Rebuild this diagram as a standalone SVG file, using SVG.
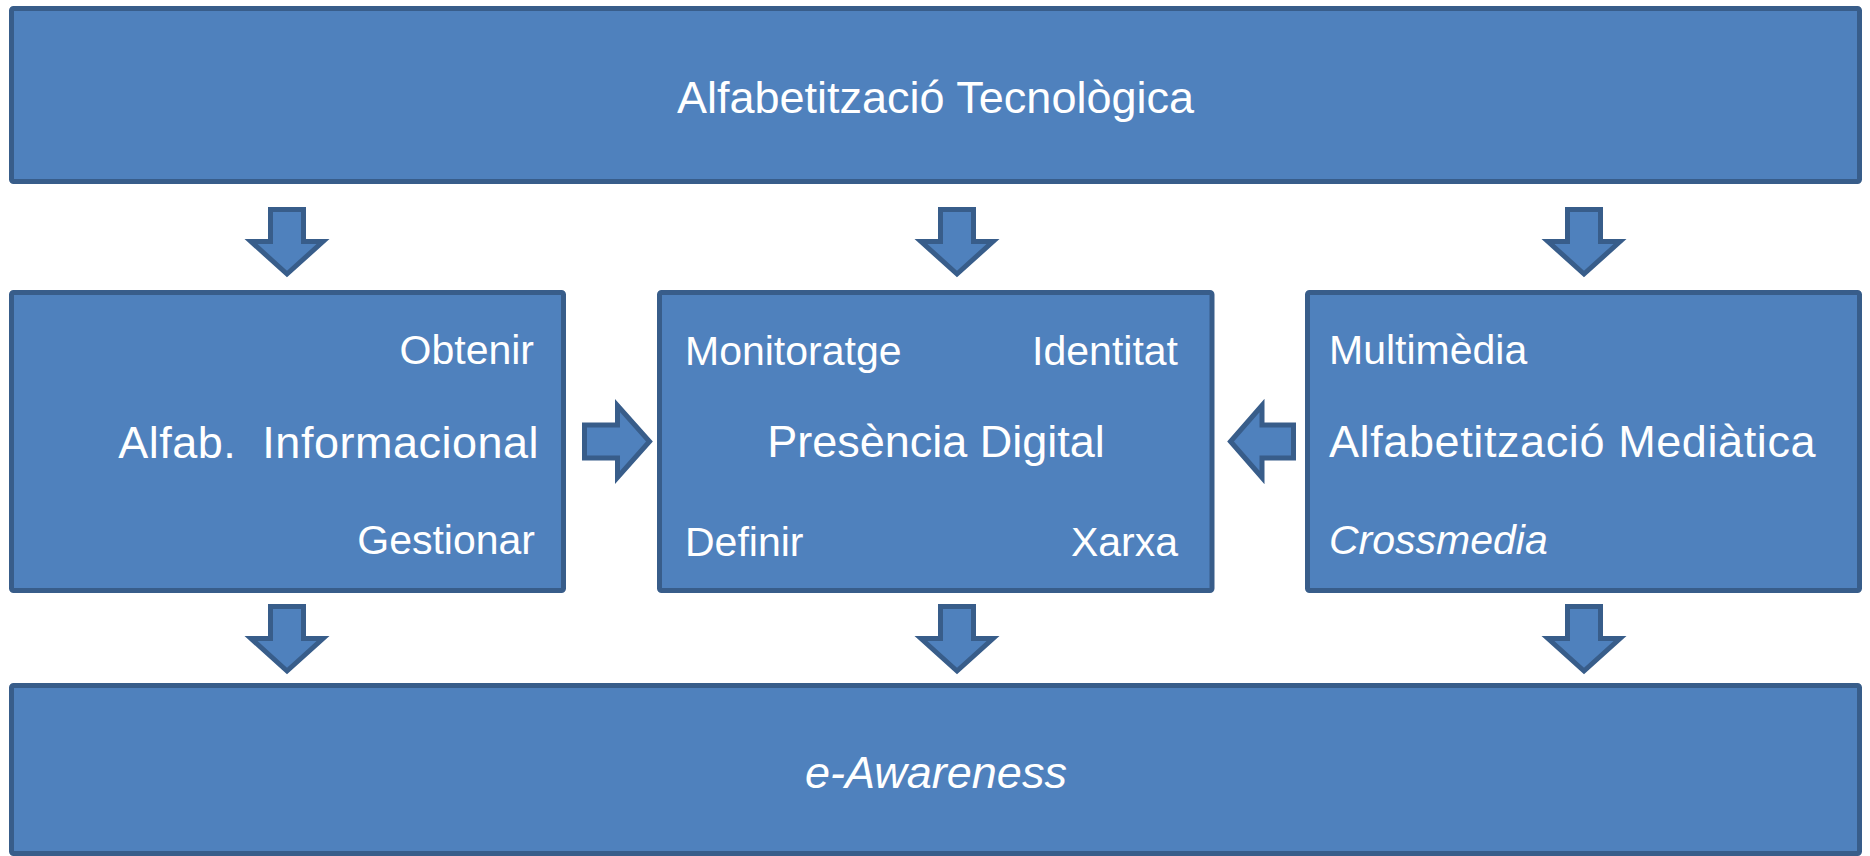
<svg xmlns="http://www.w3.org/2000/svg" width="1870" height="856" viewBox="0 0 1870 856">
<style>
.box{fill:#4F81BD;stroke:#385D8A;stroke-width:5}
.arr{fill:#4F81BD;stroke:#385D8A;stroke-width:5;stroke-linejoin:miter}
text{font-family:"Liberation Sans",Arial,sans-serif;fill:#FFFFFF;white-space:pre}
.big{font-size:45px}
.sm{font-size:41px}
.it{font-style:italic}
</style>
<rect width="1870" height="856" fill="#FFFFFF"/>
<g id="node-tecnologica">
<rect class="box" x="11.5" y="8.5" width="1848" height="173" rx="2"/>
<text class="big" x="935.5" y="113" text-anchor="middle">Alfabetització Tecnològica</text>
</g>
<g id="node-informacional">
<rect class="box" x="11.5" y="292.5" width="552" height="298" rx="2"/>
<text class="sm" x="534" y="364" text-anchor="end">Obtenir</text>
<text class="big" x="539" y="458" text-anchor="end" letter-spacing="0.5">Alfab.  Informacional</text>
<text class="sm" x="535" y="554" text-anchor="end">Gestionar</text>
</g>
<g id="node-presencia">
<rect class="box" x="659.5" y="292.5" width="552.5" height="298" rx="2"/>
<text class="sm" x="685" y="365">Monitoratge</text>
<text class="sm" x="1178" y="365" text-anchor="end">Identitat</text>
<text class="big" x="936" y="457" text-anchor="middle">Presència Digital</text>
<text class="sm" x="685" y="556">Definir</text>
<text class="sm" x="1178" y="556" text-anchor="end">Xarxa</text>
</g>
<g id="node-mediatica">
<rect class="box" x="1307.5" y="292.5" width="552" height="298" rx="2"/>
<text class="sm" x="1329" y="364">Multimèdia</text>
<text class="big" x="1329" y="457" letter-spacing="0.6">Alfabetització Mediàtica</text>
<text class="sm it" x="1329" y="554">Crossmedia</text>
</g>
<g id="node-eawareness">
<rect class="box" x="11.5" y="685.5" width="1848" height="168" rx="2"/>
<text class="big it" x="936" y="788" text-anchor="middle">e-Awareness</text>
</g>
<g id="connectors">
<polygon class="arr" points="270.5,209.5 303.5,209.5 303.5,241.5 323,241.5 287,274 251,241.5 270.5,241.5"/>
<polygon class="arr" points="940.5,209.5 973.5,209.5 973.5,241.5 993,241.5 957,274 921,241.5 940.5,241.5"/>
<polygon class="arr" points="1567.5,209.5 1600.5,209.5 1600.5,241.5 1620,241.5 1584,274 1548,241.5 1567.5,241.5"/>
<polygon class="arr" points="270.5,606.5 303.5,606.5 303.5,638.5 323,638.5 287,671 251,638.5 270.5,638.5"/>
<polygon class="arr" points="940.5,606.5 973.5,606.5 973.5,638.5 993,638.5 957,671 921,638.5 940.5,638.5"/>
<polygon class="arr" points="1567.5,606.5 1600.5,606.5 1600.5,638.5 1620,638.5 1584,671 1548,638.5 1567.5,638.5"/>
<polygon class="arr" points="584.5,425 617.5,425 617.5,405.5 649.5,441.5 617.5,477.5 617.5,458 584.5,458"/>
<polygon class="arr" points="1293.5,425 1262,425 1262,405.5 1230.5,441.5 1262,477.5 1262,458 1293.5,458"/>
</g>
</svg>
